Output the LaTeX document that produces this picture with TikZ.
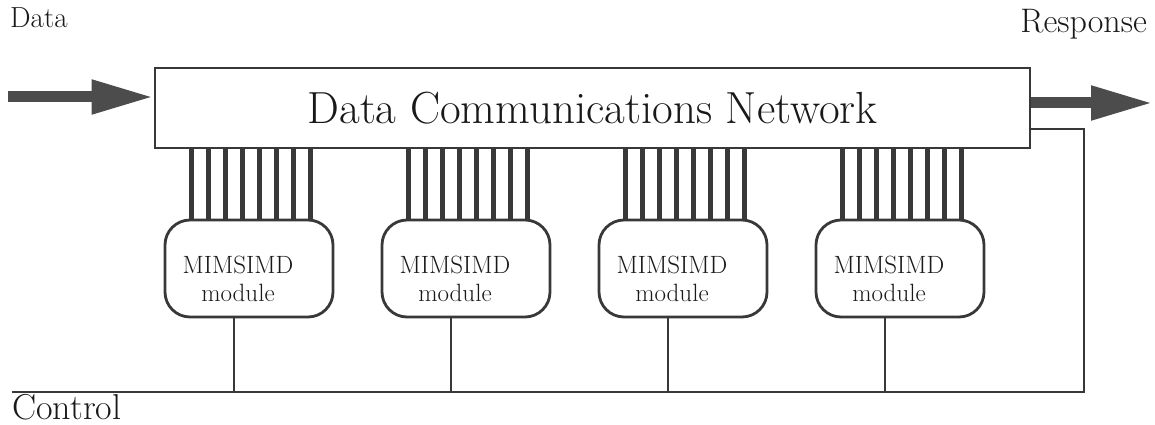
\documentclass[tikz,border=0pt]{standalone}
\usetikzlibrary{arrows.meta}
\begin{document}
\begin{tikzpicture}[x=1pt,y=-1pt,
  ln/.style={draw=black!78, line width=2.8pt},
  bar/.style={draw=black!78, line width=4.5pt},
  modbox/.style={ln, rounded corners=25pt, minimum width=168pt, minimum height=97pt, inner sep=0pt},
  modtext/.style={font=\fontsize{25}{28}\selectfont, align=center, text=black!90},
  lbl/.style={text=black!90, inner sep=0pt},
  bigarrow/.style={draw=black!70, line width=11pt, -{Triangle[length=62pt,width=32pt]}}
]
\useasboundingbox (0,0) rectangle (1155,425);

% network box
\node[ln, minimum width=875pt, minimum height=80pt, inner sep=0pt,
      font=\fontsize{45}{54}\selectfont, text=black!90] (net) at (592.5,108) {Data Communications Network};

% modules
\foreach \k in {1,...,4}{
  \node[modbox] (m\k) at ({249+217*(\k-1)},268.5) {};
  \node[modtext] (t\k) at ({238+217*(\k-1)},279) {MIMSIMD\\module};
}

% bus combs
\foreach \k in {1,...,4}{
  \foreach \i in {0,...,7}{
    \draw[bar] ([xshift={(28+17*\i)*1pt}]m\k.north west) -- ([xshift={(28+17*\i)*1pt}]m\k.north west |- net.south);
  }
}

% control line and feedback
\coordinate (fb) at (1084,129);
\coordinate (ctl) at (12,392);
\draw[ln] (net.east |- fb) -- (fb) -- (fb |- ctl) -- (ctl);
\foreach \k in {1,...,4}{
  \draw[ln] ([xshift=-15pt]m\k.south) -- ([xshift=-15pt]m\k.south |- ctl);
}

% data / response arrows
\coordinate (din) at (8,97);
\coordinate (rout) at (1153,103);
\draw[bigarrow] (din) -- (net.west |- din);
\draw[bigarrow] (net.east |- rout) -- (rout);

% labels
\node[lbl, font=\fontsize{29}{34}\selectfont, anchor=base west] (ldata) at (10,28) {Data};
\node[lbl, font=\fontsize{34}{40}\selectfont, anchor=base east] (lresp) at (1147,33) {Response};
\node[lbl, font=\fontsize{36}{42}\selectfont, anchor=base west] (lctl) at (12,419) {Control};
\end{tikzpicture}
\end{document}
